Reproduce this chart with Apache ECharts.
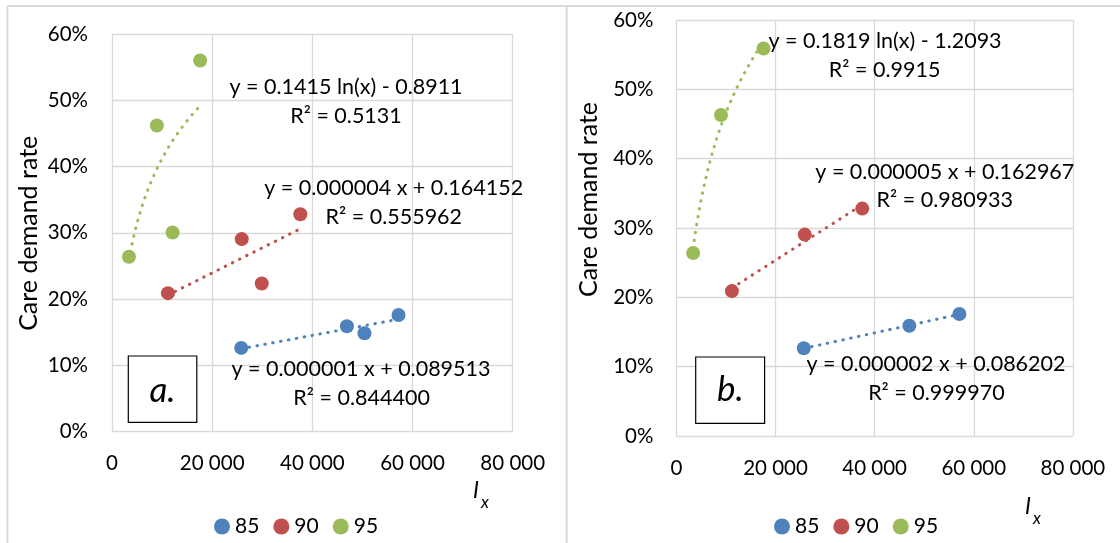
<!DOCTYPE html>
<html><head><meta charset="utf-8">
<script src="https://cdn.jsdelivr.net/npm/echarts@6/dist/echarts.min.js"></script>
<style>html,body{margin:0;padding:0;background:#fff}#c{width:1120px;height:543px}</style>
</head><body><div id="c"></div>
<script>
// ---------- data ----------
const seriesNames = ['85', '90', '95'];
const xTickValues = [0, 20000, 40000, 60000, 80000];
const yTickValues = [0, 0.1, 0.2, 0.3, 0.4, 0.5, 0.6];

// Panel a: all observations
const a85x = [25800, 46900, 50400, 57200];
const a85y = [0.1264, 0.159, 0.1486, 0.176];
const a90x = [11170, 25900, 29900, 37600];
const a90y = [0.209, 0.2906, 0.2236, 0.328];
const a95x = [3380, 8960, 12100, 17600];
const a95y = [0.264, 0.462, 0.3006, 0.560];

// Panel b: outliers removed
const b85x = [25700, 47000, 57100];
const b85y = [0.1265, 0.159, 0.176];
const b90x = [11200, 25900, 37500];
const b90y = [0.209, 0.2905, 0.328];
const b95x = [3380, 9000, 17580];
const b95y = [0.264, 0.463, 0.559];

// trendline types per age group
const trendTypes = ['linear', 'linear', 'log'];

// equation labels (as printed)
const eqTextA = ['y = 0.000001 x + 0.089513', 'R² = 0.844400',
                 'y = 0.000004 x + 0.164152', 'R² = 0.555962',
                 'y = 0.1415 ln(x) - 0.8911', 'R² = 0.5131'];
const eqTextB = ['y = 0.000002 x + 0.086202', 'R² = 0.999970',
                 'y = 0.000005 x + 0.162967', 'R² = 0.980933',
                 'y = 0.1819 ln(x) - 1.2093', 'R² = 0.9915'];
const panelLabels = ['a.', 'b.'];
const yAxisTitle = 'Care demand rate';

// ---------- helpers ----------
const colors = ['#4F81BD', '#C0504D', '#9BBB59'];
const FONT = 'Lato, "Noto Sans", sans-serif';

function fit(xs, ys, type) {
  const tx = xs.map(v => type === 'log' ? Math.log(v) : v);
  const n = xs.length;
  const mx = tx.reduce((s, v) => s + v, 0) / n;
  const my = ys.reduce((s, v) => s + v, 0) / n;
  let sxy = 0, sxx = 0;
  for (let i = 0; i < n; i++) { sxy += (tx[i] - mx) * (ys[i] - my); sxx += (tx[i] - mx) ** 2; }
  const b = sxy / sxx, a = my - b * mx;
  const lo = Math.min(...xs), hi = Math.max(...xs);
  const pts = [];
  const steps = type === 'log' ? 80 : 1;
  for (let i = 0; i <= steps; i++) {
    const x = lo + (hi - lo) * i / steps;
    pts.push([x, a + b * (type === 'log' ? Math.log(x) : x)]);
  }
  return pts;
}
const zip = (xs, ys) => xs.map((x, i) => [x, ys[i]]);

const panels = [
  { xs: [a85x, a90x, a95x], ys: [a85y, a90y, a95y] },
  { xs: [b85x, b90x, b95x], ys: [b85y, b90y, b95y] }
];

const grids = [
  { left: 112, right: 1120 - 512.7, top: 34, bottom: 543 - 431.7 },
  { left: 676.4, right: 1120 - 1072.9, top: 20, bottom: 543 - 436 }
];

const axisLabelStyle = { color: '#000', fontFamily: FONT, fontSize: 20.5 };
const gridLine = { show: true, lineStyle: { color: '#D9D9D9', width: 1.3 } };

const xAxes = grids.map((g, i) => ({
  type: 'value', gridIndex: i, min: xTickValues[0], max: xTickValues[xTickValues.length - 1],
  interval: xTickValues[1] - xTickValues[0],
  axisLine: { show: false }, axisTick: { show: false }, splitLine: gridLine,
  axisLabel: Object.assign({ margin: i === 0 ? 21 : 22,
    formatter: v => v === 0 ? '0' : (v / 1000) + ' 000' }, axisLabelStyle)
}));
const yAxes = grids.map((g, i) => ({
  type: 'value', gridIndex: i, min: yTickValues[0], max: yTickValues[yTickValues.length - 1],
  interval: 0.1,
  axisLine: { show: false }, axisTick: { show: false }, splitLine: gridLine,
  axisLabel: Object.assign({ margin: i === 0 ? 24 : 23,
    formatter: v => Math.round(v * 100) + '%' }, axisLabelStyle)
}));

const series = [];
panels.forEach((p, pi) => {
  for (let k = 0; k < 3; k++) {
    series.push({
      type: 'line', name: 'trend' + pi + k, xAxisIndex: pi, yAxisIndex: pi,
      data: fit(p.xs[k], p.ys[k], trendTypes[k]), showSymbol: false, symbol: 'none',
      silent: true, z: 2, animation: false,
      lineStyle: { color: colors[k], width: 3, type: [0.5, 7.5], cap: 'round' }
    });
    series.push({
      type: 'scatter', name: seriesNames[k], xAxisIndex: pi, yAxisIndex: pi,
      data: zip(p.xs[k], p.ys[k]), symbol: 'circle', symbolSize: 14, z: 3,
      itemStyle: { color: colors[k], opacity: 1 }, animation: false
    });
  }
});

const legends = [209, 769].map(l => ({
  data: seriesNames.map(n => ({ name: n, icon: 'circle' })),
  left: l, top: 511, itemWidth: 16, itemHeight: 16, itemGap: 14, selectedMode: false,
  textStyle: { color: '#000', fontFamily: FONT, fontSize: 21 }
}));

function txt(text, x, y, size, extra) {
  return Object.assign({ type: 'text', silent: true, style: {
    text, x, y, textAlign: 'center', textVerticalAlign: 'middle',
    font: (extra && extra.font) || (size + 'px ' + FONT), fill: '#000' } }, extra && extra.el);
}
const eqPosA = [[361, 369.3], [361.6, 398.3], [393.7, 188.3], [393.8, 217.3], [346, 87.3], [346, 116]];
const eqPosB = [[936, 364], [936.4, 393.3], [944.8, 171.7], [944.8, 200], [885, 40.7], [884.6, 70]];

const graphics = [
  // chart frames
  { type: 'line', silent: true, shape: { x1: 7.5, y1: 6, x2: 1120, y2: 6 }, style: { stroke: '#D9D9D9', lineWidth: 2 } },
  { type: 'line', silent: true, shape: { x1: 7.5, y1: 6, x2: 7.5, y2: 543 }, style: { stroke: '#D9D9D9', lineWidth: 2 } },
  { type: 'line', silent: true, shape: { x1: 566.7, y1: 6, x2: 566.7, y2: 543 }, style: { stroke: '#D9D9D9', lineWidth: 2 } },
  // panel boxes
  { type: 'rect', silent: true, shape: { x: 128.3, y: 356, width: 68.5, height: 66.3 }, style: { fill: '#fff', stroke: '#000', lineWidth: 1.2 }, z: 10 },
  { type: 'rect', silent: true, shape: { x: 695.7, y: 357, width: 68.9, height: 66.3 }, style: { fill: '#fff', stroke: '#000', lineWidth: 1.2 }, z: 10 },
  txt(panelLabels[0], 162.5, 391, 0, { font: 'italic 35px ' + FONT, el: { z: 11 } }),
  txt(panelLabels[1], 730.4, 390, 0, { font: 'italic 35px ' + FONT, el: { z: 11 } }),
  // y axis titles
  Object.assign(txt(yAxisTitle, 0, 0, 25), { x: 28.6, y: 233.3, rotation: Math.PI / 2 }),
  Object.assign(txt(yAxisTitle, 0, 0, 25), { x: 588.6, y: 199.5, rotation: Math.PI / 2 }),
  // x axis titles l_x
  txt('l', 476, 490, 0, { font: 'italic 24px ' + FONT }),
  txt('x', 485, 503, 0, { font: 'italic 17px ' + FONT }),
  txt('l', 1028, 506, 0, { font: 'italic 24px ' + FONT }),
  txt('x', 1037, 519, 0, { font: 'italic 17px ' + FONT })
];
eqTextA.forEach((t, i) => graphics.push(txt(t, eqPosA[i][0], eqPosA[i][1], 21.5, { el: { z: 12 } })));
eqTextB.forEach((t, i) => graphics.push(txt(t, eqPosB[i][0], eqPosB[i][1], 21.5, { el: { z: 12 } })));

const chart = echarts.init(document.getElementById('c'), null, { renderer: 'canvas' });
chart.setOption({
  animation: false,
  backgroundColor: '#fff',
  grid: grids,
  xAxis: xAxes,
  yAxis: yAxes,
  legend: legends,
  series,
  graphic: { elements: graphics }
});
</script></body></html>
